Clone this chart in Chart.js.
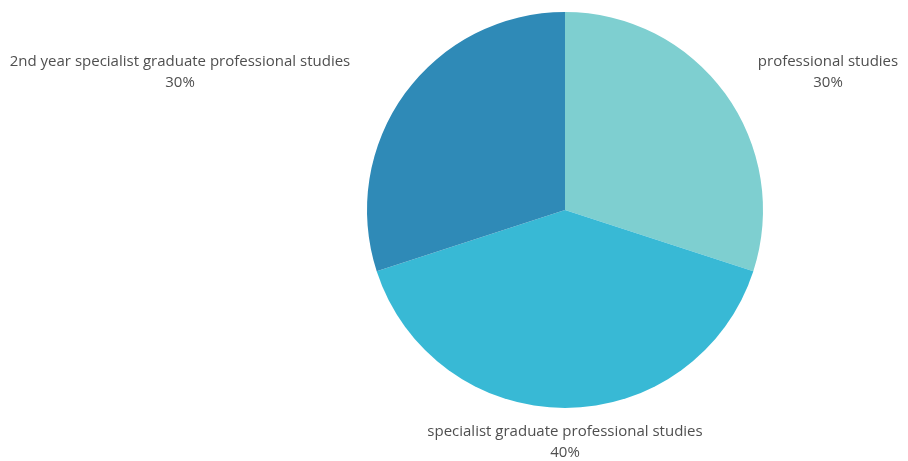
<!DOCTYPE html>
<html>
<head>
<meta charset="utf-8">
<script src="https://cdn.jsdelivr.net/npm/chart.js@4/dist/chart.umd.min.js"></script>
<style>
  html, body { margin: 0; padding: 0; background: #ffffff; }
  #wrap { width: 908px; height: 461px; position: relative; }
</style>
</head>
<body>
<div id="wrap"><canvas id="c" width="908" height="461"></canvas></div>
<script>
const categories = [
  'professional studies',
  'specialist graduate professional studies',
  '2nd year specialist graduate professional studies'
];
const shares = [30, 40, 30];
const sliceColors = ['#7ecfd0', '#38b9d5', '#2f8ab7'];

// Label anchors (text centre of the first line) for each slice
const labelAnchors = [
  { x: 828, y: 62 },
  { x: 565, y: 432 },
  { x: 180, y: 62 }
];

const labelPlugin = {
  id: 'sliceLabels',
  afterDraw(chart) {
    const ctx = chart.ctx;
    const ds = chart.data.datasets[0];
    const total = ds.data.reduce((a, b) => a + b, 0);
    ctx.save();
    ctx.font = '15px "Open Sans", sans-serif';
    ctx.fillStyle = '#4f4f4f';
    ctx.textAlign = 'center';
    ctx.textBaseline = 'middle';
    chart.getDatasetMeta(0).data.forEach((arc, i) => {
      const pos = labelAnchors[i];
      const pct = Math.round(ds.data[i] / total * 100) + '%';
      ctx.fillText(chart.data.labels[i], pos.x, pos.y);
      ctx.fillText(pct, pos.x, pos.y + 21);
    });
    ctx.restore();
  }
};

new Chart(document.getElementById('c'), {
  type: 'pie',
  data: {
    labels: categories,
    datasets: [{
      data: shares,
      backgroundColor: sliceColors,
      borderWidth: 0
    }]
  },
  options: {
    responsive: false,
    animation: false,
    layout: { padding: { top: 12, bottom: 53, left: 300, right: 78 } },
    plugins: {
      legend: { display: false },
      tooltip: { enabled: false }
    }
  },
  plugins: [labelPlugin]
});
</script>
</body>
</html>
